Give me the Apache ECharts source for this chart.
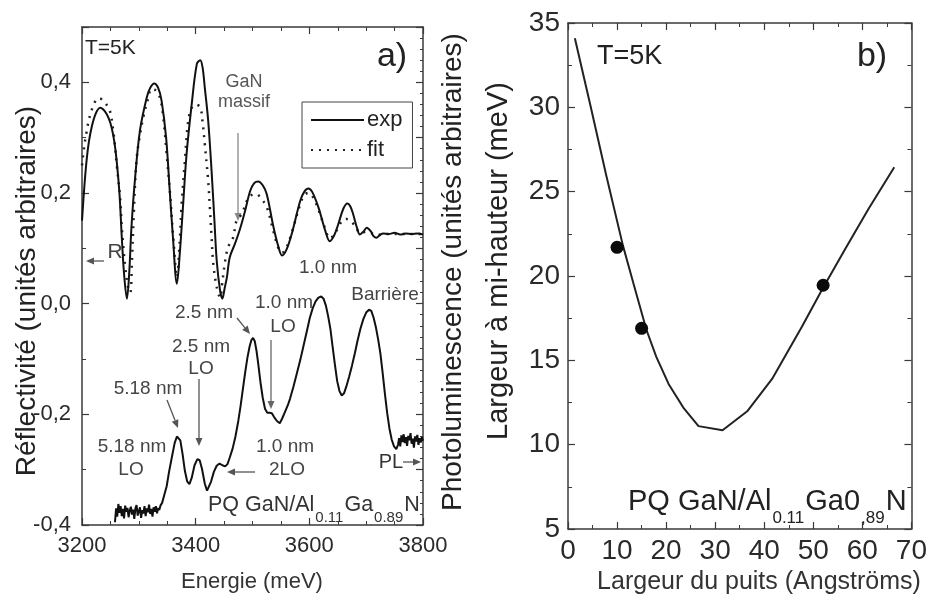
<!DOCTYPE html>
<html>
<head>
<meta charset="utf-8">
<script src="https://cdn.jsdelivr.net/npm/echarts@6/dist/echarts.min.js"></script>
<style>html,body{margin:0;padding:0;background:#fff}#c{width:930px;height:594px}</style>
</head>
<body>
<div id="c"></div>
<script>
// ---------- DATA ----------
// Panel a) reflectivity, experiment [energy meV, value]
const reflExp = [[3200,0.15],[3204,0.21],[3208,0.258],[3212,0.292],[3217,0.319],[3224,0.343],[3232,0.354],[3240,0.348],[3247,0.335],[3252,0.319],[3257,0.292],[3261,0.258],[3266,0.198],[3270,0.12],[3274,0.054],[3279,0.009],[3283,0.054],[3287,0.138],[3293,0.222],[3302,0.313],[3314,0.373],[3320,0.39],[3327,0.398],[3334,0.39],[3340,0.367],[3348,0.30],[3354,0.21],[3360,0.12],[3367,0.036],[3372,0.09],[3378,0.18],[3384,0.27],[3393,0.36],[3402,0.433],[3408,0.44],[3412,0.428],[3416,0.391],[3422,0.331],[3428,0.24],[3433,0.15],[3437,0.078],[3443,0.023],[3447,0.009],[3451,0.028],[3455,0.048],[3460,0.084],[3469,0.108],[3478,0.135],[3487,0.168],[3496,0.204],[3503,0.218],[3510,0.221],[3518,0.214],[3525,0.198],[3537,0.138],[3545,0.105],[3552,0.087],[3560,0.098],[3569,0.126],[3584,0.186],[3591,0.202],[3598,0.208],[3605,0.202],[3616,0.174],[3628,0.132],[3636,0.113],[3644,0.124],[3651,0.144],[3660,0.172],[3667,0.181],[3672,0.176],[3677,0.162],[3683,0.14],[3689,0.125],[3695,0.13],[3701,0.137],[3708,0.131],[3713,0.122],[3718,0.119],[3724,0.124],[3730,0.127],[3740,0.126],[3750,0.128],[3760,0.125],[3770,0.127],[3780,0.126],[3790,0.127],[3800,0.125]];
// Panel a) reflectivity, fit
const reflFit = [[3200,0.25],[3204,0.285],[3208,0.31],[3212,0.332],[3217,0.35],[3222,0.363],[3226,0.37],[3231,0.371],[3237,0.367],[3243,0.36],[3249,0.349],[3255,0.313],[3258,0.285],[3261,0.252],[3267,0.192],[3270,0.138],[3273,0.1],[3276,0.066],[3281,0.03],[3285,0.02],[3288,0.08],[3291,0.16],[3296,0.26],[3302,0.305],[3308,0.338],[3317,0.373],[3322,0.388],[3329,0.386],[3337,0.373],[3343,0.337],[3349,0.27],[3355,0.198],[3361,0.114],[3367,0.048],[3372,0.114],[3375,0.174],[3381,0.258],[3387,0.331],[3393,0.354],[3400,0.36],[3408,0.355],[3412,0.33],[3416,0.289],[3422,0.222],[3425,0.174],[3428,0.12],[3431,0.072],[3437,0.03],[3443,0.011],[3447,0.04],[3452,0.078],[3457,0.102],[3466,0.12],[3472,0.15],[3481,0.162],[3493,0.192],[3500,0.197],[3507,0.198],[3515,0.19],[3525,0.175],[3537,0.13],[3545,0.102],[3552,0.092],[3560,0.102],[3569,0.128],[3584,0.18],[3591,0.196],[3598,0.2],[3605,0.195],[3616,0.17],[3628,0.135],[3636,0.118],[3644,0.125],[3651,0.138],[3658,0.15],[3665,0.153],[3671,0.151],[3677,0.145],[3683,0.136],[3689,0.128],[3695,0.129],[3700,0.13],[3710,0.127],[3720,0.124],[3730,0.126],[3740,0.126],[3760,0.126],[3780,0.126],[3800,0.126]];
// Panel a) photoluminescence (same vertical scale)
const plCurve = [[3258,-0.395],[3260,-0.37],[3262,-0.385],[3264,-0.362],[3266,-0.378],[3268,-0.366],[3270,-0.384],[3272,-0.371],[3274,-0.388],[3276,-0.365],[3278,-0.376],[3280,-0.369],[3282,-0.386],[3284,-0.374],[3286,-0.367],[3288,-0.381],[3290,-0.372],[3292,-0.389],[3294,-0.37],[3296,-0.364],[3298,-0.383],[3300,-0.375],[3302,-0.368],[3304,-0.387],[3306,-0.373],[3308,-0.379],[3310,-0.366],[3312,-0.384],[3314,-0.37],[3316,-0.377],[3318,-0.363],[3320,-0.38],[3322,-0.371],[3324,-0.385],[3326,-0.368],[3328,-0.376],[3330,-0.366],[3332,-0.379],[3334,-0.369],[3336,-0.373],[3338,-0.365],
[3341,-0.36],[3345,-0.345],[3349,-0.33],[3353,-0.305],[3358,-0.278],[3363,-0.252],[3367,-0.24],[3370,-0.238],[3373,-0.247],[3377,-0.272],[3381,-0.302],[3385,-0.321],[3389,-0.326],[3393,-0.315],[3398,-0.292],[3403,-0.281],[3407,-0.283],[3411,-0.298],[3416,-0.325],[3420,-0.338],[3423,-0.337],[3427,-0.322],[3432,-0.304],[3437,-0.293],[3442,-0.289],[3447,-0.292],[3452,-0.294],[3456,-0.29],[3460,-0.278],[3465,-0.262],[3470,-0.24],[3475,-0.212],[3479,-0.185],[3483,-0.155],[3487,-0.125],[3491,-0.098],[3495,-0.077],[3498,-0.066],[3501,-0.062],[3504,-0.068],[3507,-0.085],[3510,-0.108],[3514,-0.142],[3518,-0.17],[3522,-0.19],[3526,-0.197],[3530,-0.197],[3534,-0.198],[3538,-0.205],[3543,-0.212],[3548,-0.216],[3552,-0.208],[3557,-0.196],[3562,-0.184],[3566,-0.172],[3572,-0.15],[3578,-0.126],[3584,-0.102],[3590,-0.075],[3596,-0.048],[3601,-0.025],[3606,-0.008],[3611,0.004],[3616,0.011],[3621,0.013],[3625,0.009],[3629,-0.003],[3633,-0.022],[3637,-0.045],[3641,-0.078],[3645,-0.11],[3649,-0.14],[3653,-0.158],[3657,-0.166],[3661,-0.162],[3665,-0.15],[3670,-0.132],[3675,-0.112],[3680,-0.09],[3685,-0.066],[3690,-0.045],[3695,-0.028],[3700,-0.016],[3705,-0.011],[3709,-0.013],[3713,-0.025],[3717,-0.042],[3721,-0.064],[3725,-0.09],[3729,-0.125],[3733,-0.163],[3737,-0.198],[3741,-0.226],[3745,-0.246],[3749,-0.258],[3753,-0.263],
[3756,-0.255],[3758,-0.243],[3760,-0.258],[3762,-0.238],[3764,-0.25],[3766,-0.236],[3768,-0.252],[3770,-0.241],[3772,-0.257],[3774,-0.239],[3776,-0.247],[3778,-0.234],[3780,-0.253],[3782,-0.244],[3784,-0.26],[3786,-0.24],[3788,-0.249],[3790,-0.237],[3792,-0.255],[3794,-0.243],[3796,-0.251],[3798,-0.241],[3800,-0.248]];
// Panel b) theoretical FWHM vs well width [Å, meV]
const fwhmTheory = [[1.4,34.1],[4.5,30.2],[7.85,25.9],[11.2,21.8],[13.3,19.6],[16,16.8],[18,15.2],[20.5,13.6],[23.5,12.2],[26.6,11.1],[31.5,10.85],[36.6,12.0],[41.6,13.9],[47.7,17.0],[51.8,19.2],[56.5,21.6],[61.3,24.0],[66.5,26.45]];
// Panel b) measured points
const fwhmMeasured = [[10,21.7],[15,16.9],[52,19.45]];
// Tick label sets
const xTicksA = [3200, 3400, 3600, 3800];
const yTicksA = [-0.4, -0.2, 0.0, 0.2, 0.4];
const xTicksB = [0, 10, 20, 30, 40, 50, 60, 70];
const yTicksB = [5, 10, 15, 20, 25, 30, 35];

// ---------- CHART ----------
const FONT = "'Liberation Sans', Arial, Helvetica, sans-serif";
const chart = echarts.init(document.getElementById('c'), null, {renderer: 'canvas'});
const AX = '#3a3a3a';

function boxAxis(base, showLabels, labelSize, margin, fmt) {
  return Object.assign({
    type: 'value',
    axisLine: {show: true, onZero: false, lineStyle: {color: AX, width: 1.5}},
    axisTick: {show: true, inside: true, length: 7, lineStyle: {color: AX, width: 1.2}},
    minorTick: {show: true, length: 4, lineStyle: {color: AX, width: 1}},
    splitLine: {show: false},
    axisLabel: showLabels ? {show: true, fontFamily: FONT, fontSize: labelSize, color: '#2a2a2a', margin: margin, formatter: fmt} : {show: false}
  }, base);
}

const fmtA = v => yTicksA.some(t => Math.abs(t - v) < 1e-9) ? v.toFixed(1).replace('.', ',') : '';
const fmtXA = v => xTicksA.includes(v) ? String(v) : '';
const fmtXB = v => xTicksB.includes(v) ? String(v) : '';
const fmtYB = v => yTicksB.includes(v) ? String(v) : '';

function arrow(x1, y1, x2, y2, color) {
  const a = Math.atan2(y2 - y1, x2 - x1), L = 8, W = 3.5;
  const bx = x2 - L * Math.cos(a), by = y2 - L * Math.sin(a);
  const px = -Math.sin(a) * W, py = Math.cos(a) * W;
  return [
    {type: 'line', silent: true, shape: {x1: x1, y1: y1, x2: bx, y2: by}, style: {stroke: color, lineWidth: 1.3}},
    {type: 'polygon', silent: true, shape: {points: [[x2, y2], [bx + px, by + py], [bx - px, by - py]]}, style: {fill: color}}
  ];
}
function txt(text, x, y, size, color, align, rot) {
  const st = {text: text, font: size + 'px ' + FONT, fontSize: size, fontFamily: FONT, fill: color, align: align || 'center', verticalAlign: 'middle'};
  return {type: 'text', silent: true, x: x, y: y, rotation: rot || 0, style: st, z: 10};
}
// formula with subscripts: parts = [[text, isSub], ...], laid out left to right from x
const measureCtx = document.createElement('canvas').getContext('2d');
function formula(parts, x, y, size, subSize, subDrop, color) {
  const out = [];
  let cx = x;
  parts.forEach(p => {
    const s = p[1] ? subSize : size;
    measureCtx.font = s + 'px ' + FONT;
    out.push(txt(p[0], cx, p[1] ? y + subDrop : y, s, color, 'left'));
    cx += measureCtx.measureText(p[0]).width + 1;
  });
  return out;
}

const G = '#454545';
const graphics = [].concat(
  // axis titles
  txt('Réflectivité (unités arbitraires)', 27, 291, 28, '#222', 'center', Math.PI / 2),
  txt('Photoluminescence (unités arbitraires)', 453, 272, 28, '#222', 'center', Math.PI / 2),
  txt('Energie (meV)', 252, 582, 22, '#333'),
  txt('Largeur à mi-hauteur (meV)', 499, 261, 29, '#222', 'center', Math.PI / 2),
  txt('Largeur du puits (Angströms)', 759, 582, 25, '#333'),
  // panel a annotations
  txt('T=5K', 85, 48, 21, '#222', 'left'),
  txt('a)', 392, 57, 34, '#222'),
  txt('GaN', 244, 82, 18, '#555'),
  txt('massif', 244, 102, 18, '#555'),
  arrow(238, 133, 238, 221, '#888'),
  txt('R', 115, 252, 21, '#444'),
  arrow(104, 261, 86, 261, '#555'),
  txt('1.0 nm', 328, 268, 19, G),
  txt('Barrière', 385, 295, 19, G),
  txt('2.5 nm', 204, 313, 19, G),
  arrow(237, 318, 250, 334, '#555'),
  txt('1.0 nm', 284, 303, 19, G),
  txt('LO', 283, 327, 19, G),
  arrow(271, 340, 271, 409, '#666'),
  txt('2.5 nm', 201, 347, 19, G),
  txt('LO', 201, 369, 19, G),
  arrow(199, 379, 199, 446, '#555'),
  txt('5.18 nm', 148, 389, 19, G),
  arrow(167, 400, 178, 428, '#555'),
  txt('5.18 nm', 132, 447, 19, G),
  txt('LO', 131, 470, 19, G),
  txt('1.0 nm', 285, 447, 19, G),
  txt('2LO', 287, 470, 19, G),
  arrow(255, 472, 227, 472, '#555'),
  txt('PL', 391, 462, 20, '#333'),
  arrow(403, 462, 421, 462, '#555'),
  formula([['PQ GaN/Al', false], ['0.11', true], ['Ga', false], ['0.89', true], ['N', false]], 208, 505, 21.5, 15, 13, '#333'),
  // panel b annotations
  txt('T=5K', 597, 57, 27, '#222', 'left'),
  txt('b)', 872, 57, 34, '#222'),
  formula([['PQ GaN/Al', false], ['0.11', true], ['Ga0', false], [',89', true], ['N', false]], 628, 502, 29, 17, 16, '#222')
);

const option = {
  animation: false,
  backgroundColor: '#fff',
  textStyle: {fontFamily: FONT},
  grid: [
    {left: 82, top: 27, width: 341, height: 498},
    {left: 568, top: 23, width: 345, height: 506}
  ],
  xAxis: [
    boxAxis({gridIndex: 0, position: 'bottom', min: 3200, max: 3800, interval: 200, minorTick: {show: true, splitNumber: 4, length: 4, lineStyle: {color: AX}}}, true, 22, 10, fmtXA),
    boxAxis({gridIndex: 0, position: 'top', min: 3200, max: 3800, interval: 200, minorTick: {show: true, splitNumber: 4, length: 4, lineStyle: {color: AX}}}, false),
    boxAxis({gridIndex: 1, position: 'bottom', min: 0, max: 70, interval: 10, minorTick: {show: true, splitNumber: 2, length: 4, lineStyle: {color: AX}}}, true, 28, 8, fmtXB),
    boxAxis({gridIndex: 1, position: 'top', min: 0, max: 70, interval: 10, minorTick: {show: true, splitNumber: 2, length: 4, lineStyle: {color: AX}}}, false)
  ],
  yAxis: [
    boxAxis({gridIndex: 0, position: 'left', min: -0.4, max: 0.5, interval: 0.2, minorTick: {show: true, splitNumber: 2, length: 4, lineStyle: {color: AX}}}, true, 22, 11, fmtA),
    boxAxis({gridIndex: 0, position: 'right', min: -0.4, max: 0.5, interval: 0.1, minorTick: {show: true, splitNumber: 5, length: 3, lineStyle: {color: AX}}}, false),
    boxAxis({gridIndex: 1, position: 'left', min: 5, max: 35, interval: 5, minorTick: {show: true, splitNumber: 2, length: 4, lineStyle: {color: AX}}}, true, 28, 8, fmtYB),
    boxAxis({gridIndex: 1, position: 'right', min: 5, max: 35, interval: 5, minorTick: {show: true, splitNumber: 2, length: 4, lineStyle: {color: AX}}}, false)
  ],
  legend: {
    data: ['exp', 'fit'],
    orient: 'vertical',
    left: 302, top: 102,
    selectedMode: false,
    borderColor: '#444', borderWidth: 1,
    padding: [7, 10, 7, 8],
    itemGap: 8,
    itemWidth: 53, itemHeight: 14,
    itemStyle: {opacity: 0},
    textStyle: {fontFamily: FONT, fontSize: 22, color: '#222', padding: [0, 0, 0, -2]}
  },
  series: [
    {name: 'exp', type: 'line', xAxisIndex: 0, yAxisIndex: 0, data: reflExp, showSymbol: false, symbol: 'none', smooth: 0.35,
      lineStyle: {color: '#111', width: 2}, itemStyle: {color: '#111'}, z: 3},
    {name: 'fit', type: 'line', xAxisIndex: 0, yAxisIndex: 0, data: reflFit, showSymbol: false, symbol: 'none', smooth: 0.35,
      lineStyle: {color: '#222', width: 2.5, type: [2, 6]}, itemStyle: {color: '#222'}, z: 2},
    {name: 'PL', type: 'line', xAxisIndex: 0, yAxisIndex: 0, data: plCurve, showSymbol: false, symbol: 'none',
      lineStyle: {color: '#111', width: 2}, z: 3},
    {name: 'theory', type: 'line', xAxisIndex: 2, yAxisIndex: 2, data: fwhmTheory, showSymbol: false, symbol: 'none',
      lineStyle: {color: '#222', width: 2}, z: 3},
    {name: 'measured', type: 'scatter', xAxisIndex: 2, yAxisIndex: 2, data: fwhmMeasured, symbol: 'circle', symbolSize: 13,
      itemStyle: {color: '#0a0a0a', opacity: 1}, z: 4}
  ],
  graphic: graphics
};
chart.setOption(option);
</script>
</body>
</html>
